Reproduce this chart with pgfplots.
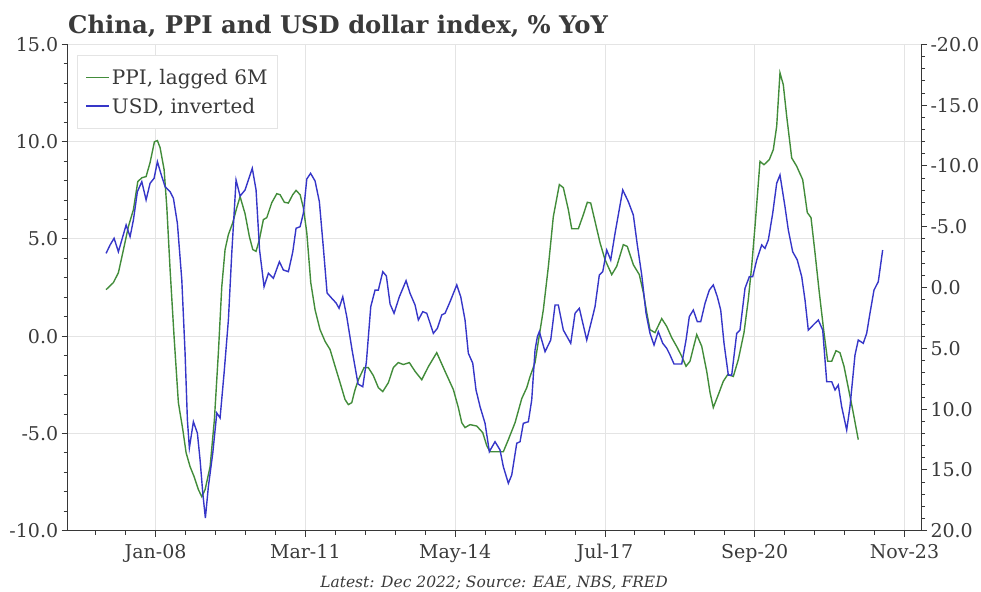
\documentclass[border=0pt]{standalone}
\usepackage{fontspec}
\setmainfont{DejaVu Serif}
\usepackage{pgfplots}
\usepackage{pgfplotstable}
\pgfplotsset{compat=1.18}
\definecolor{ppigreen}{RGB}{66,140,58}
\definecolor{usdblue}{RGB}{54,54,200}
\definecolor{txt}{RGB}{58,58,58}
\definecolor{gridc}{RGB}{228,228,228}
\definecolor{spine}{RGB}{55,55,55}

\pgfplotstableread{
m v
83.44 2.39
85.29 2.75
86.56 3.26
87.68 4.29
89.10 5.63
90.37 6.50
91.48 7.94
92.50 8.14
93.59 8.20
94.60 8.92
95.70 9.99
96.46 10.05
97.14 9.69
98.16 8.56
98.84 6.65
99.68 3.42
100.69 -0.03
101.78 -3.42
102.90 -4.80
103.74 -5.99
104.75 -6.71
105.77 -7.22
106.86 -7.89
107.72 -8.25
108.56 -7.89
109.83 -6.71
110.92 -4.29
111.93 -0.85
112.79 2.54
113.63 4.45
114.47 5.22
115.58 5.83
116.60 6.60
117.44 7.17
118.70 6.29
119.80 5.11
120.66 4.45
121.49 4.36
122.33 4.96
123.35 5.99
124.21 6.09
125.48 6.86
126.75 7.32
127.58 7.27
128.67 6.88
129.69 6.84
130.80 7.27
131.64 7.49
132.66 7.27
133.49 6.60
134.36 5.32
135.37 2.75
136.46 1.36
137.73 0.33
139.00 -0.27
140.27 -0.69
141.54 -1.55
142.80 -2.39
144.07 -3.26
144.91 -3.52
145.77 -3.42
146.61 -2.75
147.45 -2.24
148.89 -1.62
149.98 -1.62
151.25 -2.03
152.52 -2.65
153.64 -2.85
155.06 -2.39
156.32 -1.62
157.59 -1.36
158.86 -1.46
160.38 -1.36
161.83 -1.81
163.53 -2.24
165.20 -1.57
167.33 -0.85
169.44 -1.81
171.55 -2.75
172.81 -3.67
173.68 -4.45
174.51 -4.70
175.78 -4.55
177.48 -4.62
179.00 -4.96
180.02 -5.63
180.85 -5.94
182.12 -5.94
184.23 -5.94
185.50 -5.32
187.20 -4.45
188.90 -3.21
190.17 -2.65
191.00 -2.08
192.27 -1.36
194.38 1.36
195.65 3.57
196.91 6.14
198.44 7.79
199.45 7.63
200.72 6.50
201.58 5.52
203.26 5.52
204.52 6.24
205.54 6.88
206.40 6.84
207.49 5.90
208.76 4.80
210.03 3.93
211.73 3.16
213.00 3.59
214.67 4.70
215.68 4.61
217.21 3.67
218.73 3.16
219.75 2.24
220.61 1.21
221.44 0.33
222.71 0.18
224.41 0.90
225.68 0.50
226.95 -0.08
228.37 -0.59
229.49 -1.04
230.58 -1.55
231.59 -1.29
233.29 0.08
234.56 -0.52
235.83 -1.81
236.67 -2.90
237.50 -3.67
238.77 -3.01
240.04 -2.32
241.15 -1.98
242.58 -2.07
243.84 -1.21
245.29 0.18
246.38 1.88
247.24 3.59
248.08 5.64
249.35 8.98
250.36 8.81
251.71 9.07
252.72 9.58
253.58 10.78
254.42 13.53
255.26 12.92
256.12 11.30
257.39 9.16
258.66 8.73
260.18 8.04
261.35 6.35
262.29 6.09
263.30 4.29
264.39 2.24
265.58 0.18
266.52 -1.29
267.54 -1.29
268.63 -0.75
269.64 -0.85
270.66 -1.55
271.75 -2.65
272.86 -3.78
274.28 -5.32
}\ppitable

\pgfplotstableread{
m u
83.44 -2.81
84.46 -3.50
85.47 -4.05
86.56 -2.94
87.43 -3.91
88.52 -5.14
89.53 -4.18
90.37 -5.55
91.38 -7.88
92.50 -8.70
93.59 -7.20
94.60 -8.57
95.62 -8.98
96.46 -10.35
97.32 -9.39
98.41 -8.29
99.68 -7.88
100.52 -7.34
101.53 -5.28
102.65 -0.62
103.48 5.39
104.07 10.90
104.57 13.20
105.59 11.04
106.60 11.97
107.29 14.19
107.97 16.90
108.63 18.96
109.39 16.38
110.51 13.61
111.53 10.32
112.36 10.73
113.38 7.03
114.47 2.67
115.33 -2.84
116.42 -8.84
117.44 -7.52
118.70 -8.02
119.54 -8.84
120.53 -9.80
121.49 -8.02
122.38 -3.08
123.52 -0.07
124.62 -1.17
125.88 -0.76
127.41 -2.12
128.42 -1.44
129.69 -1.30
130.80 -2.92
131.64 -4.87
132.66 -5.00
133.49 -6.10
134.36 -8.92
135.32 -9.39
136.46 -8.76
137.55 -7.06
138.57 -3.25
139.51 0.45
140.70 0.89
141.79 1.27
142.55 1.71
143.49 0.76
144.50 2.40
145.85 5.14
147.37 7.94
148.56 8.16
149.48 6.13
150.59 1.58
151.68 0.21
152.52 0.21
153.64 -1.30
154.55 -0.95
155.49 1.36
156.50 2.12
157.85 0.76
159.55 -0.56
160.56 0.48
161.83 1.44
162.67 2.67
163.78 1.99
164.80 2.12
165.64 2.94
166.47 3.77
167.49 3.36
168.60 2.26
169.44 2.12
170.71 1.17
172.41 -0.21
173.42 0.76
174.51 2.67
175.35 5.41
176.47 6.23
177.30 8.43
178.32 9.80
179.59 11.17
180.68 13.50
182.12 12.68
183.39 13.36
184.23 14.74
185.50 16.10
186.36 15.42
187.63 12.81
188.47 12.68
189.30 11.17
190.57 11.04
191.43 9.25
192.27 5.14
192.86 4.05
193.36 3.63
194.81 5.28
196.25 4.32
197.35 1.44
198.18 1.44
199.45 3.50
201.33 4.59
202.42 2.12
203.51 1.71
205.39 4.32
206.66 2.67
207.49 1.58
208.58 -1.03
209.45 -1.30
210.46 -3.08
211.47 -2.26
212.57 -4.46
214.52 -8.02
215.94 -7.06
217.21 -5.96
218.22 -3.50
219.34 -1.03
220.43 2.12
221.44 3.77
222.46 4.73
223.55 3.63
224.67 4.59
225.68 5.00
226.52 5.55
227.53 6.29
229.49 6.29
230.58 4.32
231.41 2.40
232.43 1.85
233.44 2.81
234.31 2.81
235.40 1.30
236.49 0.21
237.50 -0.21
238.52 0.76
239.38 1.85
240.22 4.59
241.31 7.20
242.17 7.20
243.44 3.77
244.27 3.50
245.54 0.07
246.64 -0.89
247.50 -0.89
248.51 -2.26
249.78 -3.50
250.62 -3.22
251.46 -3.91
252.57 -6.10
253.58 -8.57
254.42 -9.25
255.69 -6.64
256.53 -4.73
257.64 -2.94
258.81 -2.26
259.93 -0.89
260.77 1.03
261.60 3.50
262.87 3.08
264.14 2.67
265.26 3.50
266.27 7.75
267.54 7.75
268.38 8.43
269.21 8.02
270.07 9.80
271.34 11.72
272.18 9.80
273.45 5.55
274.28 4.32
275.55 4.59
276.41 3.77
277.25 2.12
278.27 0.21
279.36 -0.48
280.47 -3.08
}\usdtable

\pgfplotsset{
  commonax/.style={
    at={(67.7bp,61.3bp)}, anchor=south west,
    scale only axis, width=853.3bp, height=486.4bp,
    xmin=73.7, xmax=290.2,
    tick align=outside,
    major tick length=6bp, minor tick length=4bp,
    every tick/.style={spine, line width=0.8bp},
    axis line style={spine, line width=1bp},
    ticklabel style={font=\fontsize{19bp}{22bp}\selectfont, text=txt},
  }
}

\begin{document}
\begin{tikzpicture}[x=1bp,y=1bp]
\useasboundingbox (0,0) rectangle (981,592);
\begin{axis}[
  commonax,
  ymin=-10, ymax=15,
  axis x line*=bottom, axis y line*=left,
  xtick={96,134,172,210,248,286},
  xticklabels={Jan-08,Mar-11,May-14,Jul-17,Sep-20,Nov-23},
  xticklabel style={yshift=-4bp},
  minor xtick={80.8,88.4,...,286},
  ytick={-10,-5,0,5,10,15},
  yticklabels={-10.0,-5.0,0.0,5.0,10.0,15.0},
  minor ytick={-9,...,14},
  xmajorgrids, ymajorgrids,
  major grid style={gridc, line width=0.8bp},
  legend style={at={(0.0113,0.978)}, anchor=north west, draw=gridc, fill=white,
    font=\fontsize{20bp}{23bp}\selectfont, text=txt, inner xsep=8bp, inner ysep=12bp,
    row sep=8bp},
  legend cell align=left,
  legend image code/.code={\draw[#1] (0bp,0.3bp) -- (19bp,0.3bp); \path (0bp,0bp) -- (23bp,0bp);},
]
\addplot[ppigreen, line width=1.4bp, forget plot] table[x=m, y=v] {\ppitable};
\addlegendimage{ppigreen, line width=1.4bp}
\addlegendentry{PPI, lagged 6M}
\addlegendimage{usdblue, line width=1.4bp}
\addlegendentry{USD, inverted}
\end{axis}
\begin{axis}[
  commonax,
  ymin=-20, ymax=20, y dir=reverse,
  axis x line=none, axis y line*=right,
  ytick={-20,-15,-10,-5,0,5,10,15,20},
  yticklabels={-20.0,-15.0,-10.0,-5.0,0.0,5.0,10.0,15.0,20.0},
  minor ytick={-19,...,19},
]
\addplot[usdblue, line width=1.4bp] table[x=m, y=u] {\usdtable};
\end{axis}
\node[anchor=base west, inner sep=0pt, font=\bfseries\fontsize{24.3bp}{28bp}\selectfont, text=txt]
  at (68,558.7) {China, PPI and USD dollar index, \% YoY};
\node[anchor=base, inner sep=0pt, font=\itshape\fontsize{15.5bp}{18bp}\selectfont, text=txt]
  at (494,4) {Latest: Dec 2022; Source: EAE, NBS, FRED};
\end{tikzpicture}
\end{document}
